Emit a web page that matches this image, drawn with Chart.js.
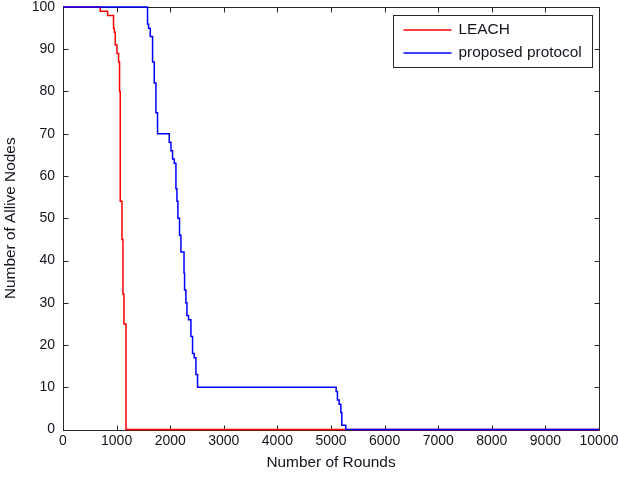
<!DOCTYPE html>
<html>
<head>
<meta charset="utf-8">
<script src="https://cdn.jsdelivr.net/npm/chart.js@4/dist/chart.umd.min.js"></script>
<style>
  html, body { margin: 0; padding: 0; background: #fff; }
  canvas { display: block; }
</style>
</head>
<body>
<canvas id="chart" width="618" height="488"></canvas>
<script>
// LEACH: rounds at which the alive count drops, and the count after the drop
const leachRounds = [0, 695, 832, 943, 957, 975, 1007, 1037, 1055, 1068, 1100, 1119, 1137, 1175, 10000];
const leachAlive = [100, 99, 98, 95, 94, 91, 89, 87, 80, 54, 45, 32, 25, 0, 0];

// proposed protocol
const protoRounds = [0, 1577, 1596, 1628, 1671, 1702, 1734, 1764,
  1982, 2014, 2044, 2075, 2107, 2126, 2144, 2174, 2200,
  2258, 2268, 2293, 2312, 2342, 2387, 2417, 2448, 2480, 2510,
  5096, 5120, 5152, 5184, 5202, 5275, 10000];
const protoAlive = [100, 96, 95, 93, 87, 82, 75, 70,
  68, 66, 64, 63, 57, 54, 50, 46, 42,
  37, 33, 30, 27, 26, 22, 18, 17, 13, 10,
  9, 7, 6, 4, 1, 0, 0];

const xTicks = [0, 1000, 2000, 3000, 4000, 5000, 6000, 7000, 8000, 9000, 10000];
const yTicks = [0, 10, 20, 30, 40, 50, 60, 70, 80, 90, 100];

const seriesNames = ['LEACH', 'proposed protocol'];
const seriesColors = ['#ff0000', '#0000ff'];

const axisColor = '#262626';
const textColor = '#14141e';
const fontFamily = '"Liberation Sans", Arial, sans-serif';

const toPoints = (xs, ys) => xs.map((x, i) => ({ x: x, y: ys[i] }));

// matlab style box with inward ticks on all four sides
const boxPlugin = {
  id: 'matlabBox',
  beforeDatasetsDraw(chart) {
    const { ctx, chartArea: a, scales } = chart;
    const L = Math.round(a.left) + 0.5, R = Math.round(a.right) + 0.5;
    const T = Math.round(a.top) + 0.5, B = Math.round(a.bottom) + 0.5;
    ctx.save();
    ctx.strokeStyle = axisColor;
    ctx.lineWidth = 1;
    ctx.strokeRect(L, T, R - L, B - T);
    ctx.beginPath();
    scales.x.ticks.forEach((t) => {
      const px = Math.round(scales.x.getPixelForValue(t.value)) + 0.5;
      ctx.moveTo(px, B); ctx.lineTo(px, B - 5);
      ctx.moveTo(px, T); ctx.lineTo(px, T + 5);
    });
    scales.y.ticks.forEach((t) => {
      const py = Math.round(scales.y.getPixelForValue(t.value)) + 0.5;
      ctx.moveTo(L, py); ctx.lineTo(L + 5, py);
      ctx.moveTo(R, py); ctx.lineTo(R - 5, py);
    });
    ctx.stroke();
    ctx.restore();
  },
  afterDraw(chart) {
    const { ctx, chartArea: a } = chart;
    const right = Math.round(a.right) - 6.5;
    const left = right - 199;
    const top = Math.round(a.top) + 8.5;
    const bottom = top + 52;
    ctx.save();
    ctx.fillStyle = '#fff';
    ctx.fillRect(left, top, right - left, bottom - top);
    ctx.strokeStyle = axisColor;
    ctx.lineWidth = 1;
    ctx.strokeRect(left, top, right - left, bottom - top);
    ctx.font = '15.4px ' + fontFamily;
    ctx.textBaseline = 'middle';
    chart.data.datasets.forEach((ds, i) => {
      const y = top + 14.5 + i * 23;
      ctx.strokeStyle = ds.borderColor;
      ctx.lineWidth = 1.5;
      ctx.beginPath();
      ctx.moveTo(left + 10, y);
      ctx.lineTo(left + 58, y);
      ctx.stroke();
      ctx.fillStyle = textColor;
      ctx.fillText(ds.label, left + 65, y);
    });
    ctx.restore();
  }
};

new Chart(document.getElementById('chart'), {
  type: 'line',
  data: {
    datasets: [
      {
        label: seriesNames[0],
        data: toPoints(leachRounds, leachAlive),
        borderColor: seriesColors[0],
        order: 1
      },
      {
        label: seriesNames[1],
        data: toPoints(protoRounds, protoAlive),
        borderColor: seriesColors[1],
        order: 0
      }
    ]
  },
  options: {
    responsive: false,
    animation: false,
    devicePixelRatio: 1,
    layout: { padding: { top: 7, right: 19, left: 0, bottom: 0 } },
    elements: {
      line: { stepped: true, borderWidth: 1.5, tension: 0, fill: false },
      point: { radius: 0, hoverRadius: 0 }
    },
    datasets: { line: { clip: 4 } },
    plugins: {
      legend: { display: false },
      tooltip: { enabled: false }
    },
    scales: {
      x: {
        type: 'linear',
        min: xTicks[0],
        max: xTicks[xTicks.length - 1],
        afterBuildTicks: (s) => { s.ticks = xTicks.map((v) => ({ value: v })); },
        grid: { display: false, drawTicks: false },
        border: { display: false },
        ticks: {
          color: textColor,
          padding: 5,
          maxRotation: 0,
          autoSkip: false,
          callback: (v) => String(v),
          font: { family: fontFamily, size: 14, lineHeight: 1 }
        },
        title: {
          display: true,
          text: 'Number of Rounds',
          color: textColor,
          padding: { top: 0, bottom: 18 },
          font: { family: fontFamily, size: 15.4, lineHeight: 1 }
        },
        afterFit: (s) => {
          s.height = 58.5;
          s.paddingLeft = 0;
          s.paddingRight = 0;
        }
      },
      y: {
        type: 'linear',
        min: yTicks[0],
        max: yTicks[yTicks.length - 1],
        afterBuildTicks: (s) => { s.ticks = yTicks.map((v) => ({ value: v })); },
        grid: { display: false, drawTicks: false },
        border: { display: false },
        ticks: {
          color: textColor,
          padding: 8,
          autoSkip: false,
          callback: (v) => String(v),
          font: { family: fontFamily, size: 14, lineHeight: 1 }
        },
        title: {
          display: true,
          text: 'Number of Allive Nodes',
          color: textColor,
          padding: { top: 3.3, bottom: 0 },
          font: { family: fontFamily, size: 15.4, lineHeight: 1 }
        },
        afterFit: (s) => {
          s.width = 63;
          s.paddingTop = 0;
          s.paddingBottom = 0;
        }
      }
    }
  },
  plugins: [boxPlugin]
});
</script>
</body>
</html>
